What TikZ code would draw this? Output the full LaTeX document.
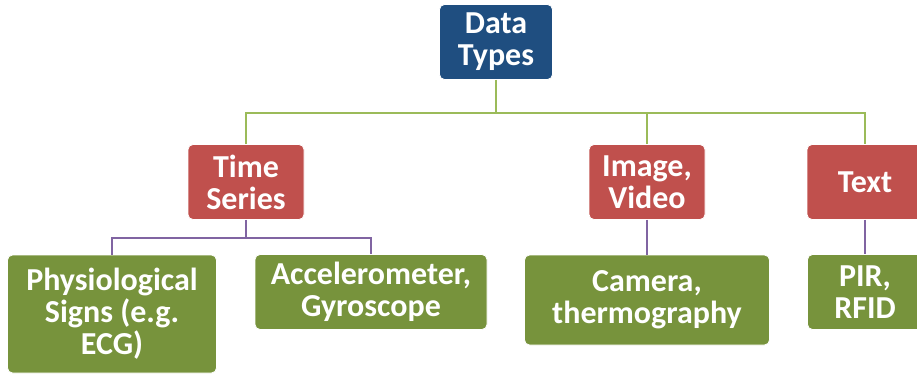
\documentclass[tikz,border=0pt]{standalone}
\usepackage{fontspec}
\setmainfont{Carlito}
\usepackage{xcolor}
\definecolor{topblue}{RGB}{31,78,128}
\definecolor{midred}{RGB}{192,80,77}
\definecolor{leafgreen}{RGB}{119,147,60}
\definecolor{linegreen}{RGB}{155,187,89}
\definecolor{linepurple}{RGB}{128,100,162}
\tikzset{
	box/.style = {shape=rectangle, rounded corners=5pt, draw=white, line width=0.8pt, text=white, align=center, inner sep=2pt, font=\fontsize{32}{32}\selectfont\bfseries},
	edge/.style = {line width=2pt}
}

\begin{document}
\begin{tikzpicture}[
    x=1pt, y=1pt,
    top_style/.style={box, fill=topblue, minimum width=113pt, minimum height=75pt},
    mid_style/.style={box, fill=midred, minimum width=116pt, minimum height=75pt},
    leaf_style/.style={box, fill=leafgreen, minimum height=75pt},
    green_edge/.style={edge, draw=linegreen},
    purple_edge/.style={edge, draw=linepurple}
    ]
    \path[use as bounding box] (0,0) rectangle (917,-374);
    \clip (0,0) rectangle (917,-374);

    % root and middle row
    \node[top_style] (types) at (496,-42) {Data\\Types};
    \node[mid_style] (series) at (246,-182) {Time\\Series};
    \node[mid_style] (image) at (647,-182) {Image,\\Video};
    \node[mid_style] (text) at (865,-182) {Text};

    % sensors
    \node[leaf_style, minimum width=209pt, minimum height=118pt] (physio) at (112,-314) {Physiological\\Signs (e.g.\\ECG)};
    \node[leaf_style, minimum width=232pt] (accel) at (371,-292) {Accelerometer,\\Gyroscope};
    \node[leaf_style, minimum width=245pt, minimum height=90pt] (camera) at (647,-300) {Camera,\\thermography};
    \node[leaf_style, minimum width=115pt] (pir) at (865,-292) {PIR,\\RFID};

    \coordinate (topbus) at (496,-113);
    \coordinate (seriesbus) at (246,-238);

    \draw[green_edge] (types.south) -- (topbus);
    \draw[green_edge] (series.north) |- (topbus) -| (text.north);
    \draw[green_edge] (image.north) -- (image.north |- topbus);

    \draw[purple_edge] (series.south) -- (seriesbus);
    \draw[purple_edge] (physio.north) |- (seriesbus) -| (accel.north);
    \draw[purple_edge] (image.south) -- (camera.north);
    \draw[purple_edge] (text.south) -- (pir.north);
\end{tikzpicture}
\end{document}
